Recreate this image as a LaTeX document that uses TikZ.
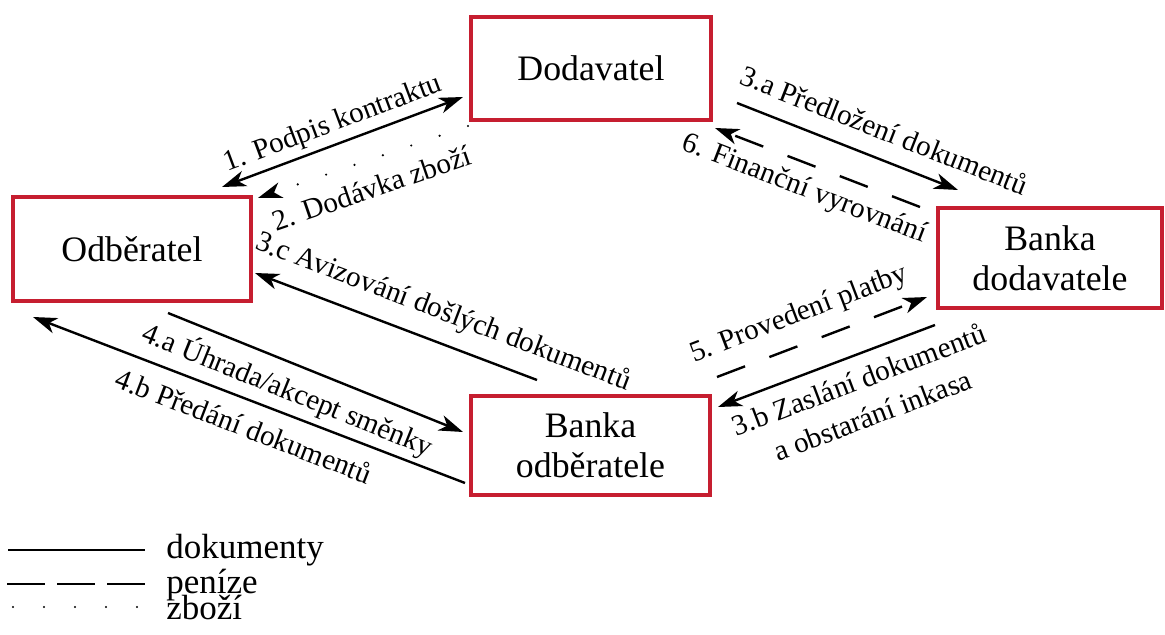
\documentclass[tikz,border=0pt]{standalone}
\usepackage{fontspec}
\setmainfont{Liberation Serif}
\usetikzlibrary{arrows.meta}
\definecolor{boxred}{RGB}{198,30,48}
\begin{document}
\begin{tikzpicture}[
  x=0.5pt, y=-0.5pt,
  >={Stealth[length=12pt,width=8pt,inset=3.5pt]},
  party/.style={rectangle, draw=boxred, line width=2pt, outer sep=0pt, inner sep=0pt,
    minimum width=120pt, minimum height=51.5pt, align=center,
    font=\fontsize{17.9}{20}\selectfont},
  flow/.style={line width=1.2pt, ->},
  money/.style={flow, dash pattern=on 15pt off 13pt},
  goods/.style={flow, line cap=round, dash pattern=on 0pt off 15pt},
  lbl/.style={sloped, inner sep=0pt, align=center, font=\fontsize{14.6}{19}\selectfont},
  legtext/.style={anchor=base west, inner sep=0pt, font=\fontsize{17.5}{20}\selectfont}
]
  \useasboundingbox (0,0) rectangle (1165,635);

  \node[party] (dod) at (591,68.5) {Dodavatel};
  \node[party, minimum width=119pt, minimum height=52pt] (odb) at (132,249) {Odběratel};
  \node[party, minimum width=112pt, minimum height=50pt] (bdod) at (1050,258) {Banka\\dodavatele};
  \node[party, minimum width=119.5pt, minimum height=49.5pt] (bodb) at (590.5,445.5) {Banka\\odběratele};

  \draw[flow, <->] ([shift={(-29,-10)}]odb.north east)
    -- node[lbl, pos=0.49, above=2.6pt] {1. Podpis kontraktu} ([shift={(-8,-23)}]dod.south west);
  \draw[goods] ([shift={(-3,6)}]dod.south west)
    -- node[lbl, pos=0.5, below=8pt] {2. Dodávka zboží} ([shift={(7,1)}]odb.north east);
  \draw[flow] ([shift={(26,-17)}]dod.south east)
    -- node[lbl, pos=0.62, above=8.5pt] {3.a Předložení dokumentů} ([shift={(20,-18)}]bdod.north west);
  \draw[money] ([shift={(-18,-1)}]bdod.north west)
    -- node[lbl, pos=0.52, below=5.4pt] {6. Finanční vyrovnání} ([shift={(4,8)}]dod.south east);
  \draw[flow] ([shift={(66,-16)}]bodb.north west)
    -- node[lbl, pos=0.37, above=7.4pt] {3.c Avizování došlých dokumentů} ([shift={(4,-28)}]odb.south east);
  \draw[flow] ([shift={(155,12)}]odb.south west)
    -- node[lbl, pos=0.44, below=4.8pt] {4.a Úhrada/akcept směnky} ([shift={(-8,-63)}]bodb.south west);
  \draw[flow] ([shift={(-6,-12)}]bodb.south west)
    -- node[lbl, pos=0.49, below=7pt] {4.b Předání dokumentů} ([shift={(20,16)}]odb.south west);
  \draw[money] ([shift={(7,-19)}]bodb.north east)
    -- node[lbl, pos=0.44, above=7.2pt] {5. Provedení platby} ([shift={(-11,-11)}]bdod.south west);
  \draw[flow] ([shift={(-3,17)}]bdod.south west)
    -- node[lbl, pos=0.39, below=6pt] {3.b Zaslání dokumentů\\a obstarání inkasa} ([shift={(8,11)}]bodb.north east);

  \draw[line width=1.2pt] (8,550) -- (145,550);
  \node[legtext] (lgdoc) at (166,558) {dokumenty};
  \draw[line width=1.2pt, dash pattern=on 19pt off 6pt] (7,584) -- (145,584);
  \node[legtext] (lgmoney) at (166,593) {peníze};
  \draw[line width=1.2pt, line cap=round, dash pattern=on 0pt off 15.5pt] (13,607) -- (140,607);
  \node[legtext] (lggoods) at (166,619) {zboží};
\end{tikzpicture}
\end{document}
